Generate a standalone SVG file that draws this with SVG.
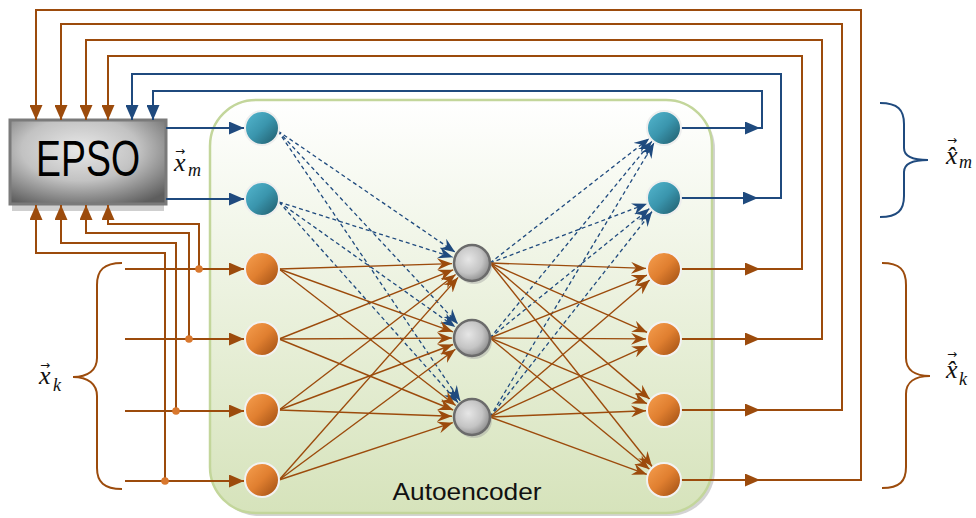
<svg xmlns="http://www.w3.org/2000/svg" width="976" height="518" viewBox="0 0 976 518">
<style>
.o{stroke:#9c4b0c;fill:none;stroke-width:2}
.b{stroke:#1f4a7e;fill:none;stroke-width:2}
.oc{stroke:#9c4b0c;fill:none;stroke-width:1.4}
.bd{stroke:#1f4a7e;fill:none;stroke-width:1.3;stroke-dasharray:4 3}
.math{font-family:"Liberation Serif","DejaVu Serif",serif;font-style:italic;fill:#111;font-size:26px}
.arr{font-family:"DejaVu Sans",sans-serif;font-style:normal;font-size:12px}
.sb{font-size:18px}
.tn{fill:url(#gTeal);stroke:#eeeeee;stroke-width:2}
.on{fill:url(#gOrange);stroke:#f2f2f2;stroke-width:2}
.hn{fill:url(#gGray);stroke:#6b6b6b;stroke-width:2.5}
</style>
<defs>
<linearGradient id="gTeal" x1="0" y1="0" x2="1" y2="1"><stop offset="0" stop-color="#55b8d0"/><stop offset="0.5" stop-color="#3a95ad"/><stop offset="1" stop-color="#1e5766"/></linearGradient>
<linearGradient id="gOrange" x1="0" y1="0" x2="1" y2="1"><stop offset="0" stop-color="#f7a050"/><stop offset="0.5" stop-color="#e07f30"/><stop offset="1" stop-color="#9a4a10"/></linearGradient>
<radialGradient id="gGray" cx="0.4" cy="0.4" r="0.65"><stop offset="0" stop-color="#e6e6e6"/><stop offset="0.6" stop-color="#c4c4c4"/><stop offset="1" stop-color="#8a8a8a"/></radialGradient>
<radialGradient id="gEpso" cx="0.45" cy="0.35" r="0.75"><stop offset="0" stop-color="#e8e8e8"/><stop offset="0.5" stop-color="#c2c2c2"/><stop offset="1" stop-color="#5e5e5e"/></radialGradient>
<linearGradient id="gAE" x1="0" y1="0" x2="0" y2="1"><stop offset="0" stop-color="#ffffff"/><stop offset="1" stop-color="#d6e3bb"/></linearGradient>
<marker id="so" markerUnits="userSpaceOnUse" markerWidth="16" markerHeight="13" refX="15" refY="6.5" orient="auto"><path d="M0,0 L15,6.5 L0,13 z" fill="#9c4b0c"/></marker>
<marker id="sb" markerUnits="userSpaceOnUse" markerWidth="16" markerHeight="13" refX="15" refY="6.5" orient="auto"><path d="M0,0 L15,6.5 L0,13 z" fill="#1f4a7e"/></marker>
<marker id="ho" markerUnits="userSpaceOnUse" markerWidth="16" markerHeight="12" refX="15" refY="6" orient="auto"><path d="M0,0 L15,6 L0,12 L5,6 z" fill="#9c4b0c"/></marker>
<marker id="hb" markerUnits="userSpaceOnUse" markerWidth="16" markerHeight="12" refX="15" refY="6" orient="auto"><path d="M0,0 L15,6 L0,12 L5,6 z" fill="#1f4a7e"/></marker>
</defs>
<rect width="976" height="518" fill="#ffffff"/>

<g id="autoencoder">
<rect x="213" y="103" width="502" height="413" rx="46" fill="#a8a8a8" opacity="0.5"/>
<rect x="210" y="100" width="502" height="413" rx="46" fill="url(#gAE)" stroke="#c3d69b" stroke-width="2.5"/>
<text x="467" y="500" font-family="Liberation Sans, Arial, sans-serif" font-size="24" fill="#111" text-anchor="middle" textLength="149" lengthAdjust="spacingAndGlyphs">Autoencoder</text>
</g>

<g id="epso">
<rect x="12" y="204" width="152" height="7" fill="#cfcfcf"/>
<rect x="10" y="120" width="156" height="84" fill="url(#gEpso)" stroke="#7a7a7a" stroke-width="3"/>
<text x="88" y="176" font-family="Liberation Sans, Arial, sans-serif" font-size="50" fill="#000" text-anchor="middle" textLength="104" lengthAdjust="spacingAndGlyphs">EPSO</text>
</g>

<g id="connectors">
<polyline class="o" points="681,480 861,480 861,10 36,10 36,120" marker-end="url(#so)"/>
<polyline class="o" points="681,410 842,410 842,24 61,24 61,120" marker-end="url(#so)"/>
<polyline class="o" points="681,339 822,339 822,40 86,40 86,120" marker-end="url(#so)"/>
<polyline class="o" points="681,269 802,269 802,56 108,56 108,120" marker-end="url(#so)"/>
<polyline class="b" points="681,198 781,198 781,74 132,74 132,120" marker-end="url(#sb)"/>
<polyline class="b" points="681,128 762,128 762,91 153,91 153,120" marker-end="url(#sb)"/>
<line class="o" x1="681" y1="480" x2="760" y2="480" marker-end="url(#so)"/>
<line class="o" x1="681" y1="410" x2="760" y2="410" marker-end="url(#so)"/>
<line class="o" x1="681" y1="339" x2="760" y2="339" marker-end="url(#so)"/>
<line class="o" x1="681" y1="269" x2="760" y2="269" marker-end="url(#so)"/>
<line class="b" x1="681" y1="198" x2="758" y2="198" marker-end="url(#sb)"/>
<line class="b" x1="681" y1="128" x2="760" y2="128" marker-end="url(#sb)"/>
<line class="b" x1="166" y1="128" x2="244" y2="128" marker-end="url(#sb)"/>
<line class="b" x1="166" y1="199" x2="244" y2="199" marker-end="url(#sb)"/>
<line class="o" x1="125" y1="269" x2="244" y2="269" marker-end="url(#so)"/>
<line class="o" x1="125" y1="339" x2="244" y2="339" marker-end="url(#so)"/>
<line class="o" x1="125" y1="411" x2="244" y2="411" marker-end="url(#so)"/>
<line class="o" x1="125" y1="481" x2="244" y2="481" marker-end="url(#so)"/>
<polyline class="o" points="199,269 199,224 108,224 108,205" marker-end="url(#so)"/>
<polyline class="o" points="189,339 189,233 86,233 86,205" marker-end="url(#so)"/>
<polyline class="o" points="176,411 176,243 61,243 61,205" marker-end="url(#so)"/>
<polyline class="o" points="165,481 165,253 36,253 36,205" marker-end="url(#so)"/>
<circle cx="199" cy="269" r="3.8" fill="#d9782e"/>
<circle cx="189" cy="339" r="3.8" fill="#d9782e"/>
<circle cx="176" cy="411" r="3.8" fill="#d9782e"/>
<circle cx="165" cy="481" r="3.8" fill="#d9782e"/>
<line class="bd" x1="278" y1="131" x2="455.2" y2="252.2" marker-end="url(#hb)"/>
<line class="bd" x1="278" y1="131" x2="457.9" y2="323.9" marker-end="url(#hb)"/>
<line class="bd" x1="278" y1="131" x2="460.2" y2="400.8" marker-end="url(#hb)"/>
<line class="bd" x1="279" y1="202" x2="452.9" y2="257.2" marker-end="url(#hb)"/>
<line class="bd" x1="279" y1="202" x2="455.3" y2="327.0" marker-end="url(#hb)"/>
<line class="bd" x1="279" y1="202" x2="458.1" y2="402.6" marker-end="url(#hb)"/>
<line class="oc" x1="279" y1="269" x2="452.0" y2="263.6" marker-end="url(#ho)"/>
<line class="oc" x1="279" y1="269" x2="453.0" y2="331.8" marker-end="url(#ho)"/>
<line class="oc" x1="279" y1="269" x2="455.7" y2="405.5" marker-end="url(#ho)"/>
<line class="oc" x1="279" y1="339" x2="453.2" y2="269.8" marker-end="url(#ho)"/>
<line class="oc" x1="279" y1="339" x2="452.0" y2="338.1" marker-end="url(#ho)"/>
<line class="oc" x1="279" y1="339" x2="453.2" y2="410.0" marker-end="url(#ho)"/>
<line class="oc" x1="279" y1="410" x2="455.6" y2="274.5" marker-end="url(#ho)"/>
<line class="oc" x1="279" y1="410" x2="453.1" y2="344.5" marker-end="url(#ho)"/>
<line class="oc" x1="279" y1="410" x2="452.0" y2="416.3" marker-end="url(#ho)"/>
<line class="oc" x1="279" y1="480" x2="458.1" y2="277.4" marker-end="url(#ho)"/>
<line class="oc" x1="279" y1="480" x2="455.4" y2="349.2" marker-end="url(#ho)"/>
<line class="oc" x1="279" y1="480" x2="452.8" y2="422.7" marker-end="url(#ho)"/>
<line class="bd" x1="490" y1="263" x2="649.3" y2="138.4" marker-end="url(#hb)"/>
<line class="bd" x1="490" y1="263" x2="647.0" y2="203.8" marker-end="url(#hb)"/>
<line class="bd" x1="490" y1="338" x2="651.9" y2="141.3" marker-end="url(#hb)"/>
<line class="bd" x1="490" y1="338" x2="649.5" y2="208.6" marker-end="url(#hb)"/>
<line class="bd" x1="490" y1="417" x2="654.0" y2="143.0" marker-end="url(#hb)"/>
<line class="bd" x1="490" y1="417" x2="652.1" y2="211.5" marker-end="url(#hb)"/>
<line class="oc" x1="490" y1="263" x2="646.0" y2="268.4" marker-end="url(#ho)"/>
<line class="oc" x1="490" y1="263" x2="647.3" y2="332.4" marker-end="url(#ho)"/>
<line class="oc" x1="490" y1="263" x2="649.7" y2="399.1" marker-end="url(#ho)"/>
<line class="oc" x1="490" y1="263" x2="652.1" y2="466.5" marker-end="url(#ho)"/>
<line class="oc" x1="490" y1="338" x2="647.1" y2="275.1" marker-end="url(#ho)"/>
<line class="oc" x1="490" y1="338" x2="646.0" y2="338.9" marker-end="url(#ho)"/>
<line class="oc" x1="490" y1="338" x2="647.2" y2="403.7" marker-end="url(#ho)"/>
<line class="oc" x1="490" y1="338" x2="649.5" y2="469.3" marker-end="url(#ho)"/>
<line class="oc" x1="490" y1="417" x2="649.7" y2="280.0" marker-end="url(#ho)"/>
<line class="oc" x1="490" y1="417" x2="647.3" y2="345.8" marker-end="url(#ho)"/>
<line class="oc" x1="490" y1="417" x2="646.0" y2="410.7" marker-end="url(#ho)"/>
<line class="oc" x1="490" y1="417" x2="646.9" y2="474.4" marker-end="url(#ho)"/>
</g>

<g id="in-m1"><circle class="tn" cx="262" cy="128" r="17"/></g>
<g id="in-m2"><circle class="tn" cx="262" cy="199" r="17"/></g>
<g id="in-k1"><circle class="on" cx="262" cy="269" r="17"/></g>
<g id="in-k2"><circle class="on" cx="262" cy="339" r="17"/></g>
<g id="in-k3"><circle class="on" cx="262" cy="410" r="17"/></g>
<g id="in-k4"><circle class="on" cx="262" cy="480" r="17"/></g>
<g id="hid-1"><circle cx="474" cy="266" r="18" fill="#9a9a9a" opacity="0.4"/><circle class="hn" cx="472" cy="263" r="18"/></g>
<g id="hid-2"><circle cx="474" cy="341" r="18" fill="#9a9a9a" opacity="0.4"/><circle class="hn" cx="472" cy="338" r="18"/></g>
<g id="hid-3"><circle cx="474" cy="420" r="18" fill="#9a9a9a" opacity="0.4"/><circle class="hn" cx="472" cy="417" r="18"/></g>
<g id="out-m1"><circle class="tn" cx="664" cy="128" r="17"/></g>
<g id="out-m2"><circle class="tn" cx="664" cy="198" r="17"/></g>
<g id="out-k1"><circle class="on" cx="664" cy="269" r="17"/></g>
<g id="out-k2"><circle class="on" cx="664" cy="339" r="17"/></g>
<g id="out-k3"><circle class="on" cx="664" cy="410" r="17"/></g>
<g id="out-k4"><circle class="on" cx="664" cy="480" r="17"/></g>

<g id="label-xm">
<text class="math"><tspan x="174" y="171">x</tspan><tspan class="arr" x="175" y="155">→</tspan><tspan class="sb" x="188" y="176">m</tspan></text>
</g>
<g id="label-xk">
<path d="M122,263 C104,263 97,270 97,285 L97,358 C97,370 88,377 73,377 C88,377 97,384 97,396 L97,468 C97,482 104,489 122,489" stroke="#9c4b0c" stroke-width="2" fill="none"/>
<text class="math"><tspan x="39" y="384">x</tspan><tspan class="arr" x="40" y="369">→</tspan><tspan class="sb" x="53" y="391">k</tspan></text>
</g>
<g id="label-xhm">
<path d="M880,103 C898,103 904,110 904,124 L904,148 C904,156 913,160 928,160 C913,160 904,164 904,172 L904,196 C904,210 898,217 880,217" stroke="#1f4a7e" stroke-width="2" fill="none"/>
<text class="math"><tspan x="946" y="164">x&#x0302;</tspan><tspan class="arr" x="947" y="144">→</tspan><tspan class="sb" x="959" y="168">m</tspan></text>
</g>
<g id="label-xhk">
<path d="M882,263 C900,263 906,270 906,285 L906,358 C906,370 915,376 930,376 C915,376 906,382 906,394 L906,467 C906,481 900,488 882,488" stroke="#9c4b0c" stroke-width="2" fill="none"/>
<text class="math"><tspan x="946" y="378">x&#x0302;</tspan><tspan class="arr" x="947" y="358">→</tspan><tspan class="sb" x="959" y="385">k</tspan></text>
</g>
</svg>
